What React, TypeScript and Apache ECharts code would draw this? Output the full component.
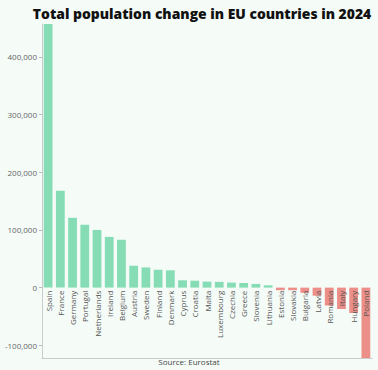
import React, { useEffect, useRef } from "react";
import * as echarts from "echarts";

const countries = [
  "Spain", "France", "Germany", "Portugal", "Netherlands", "Ireland", "Belgium",
  "Austria", "Sweden", "Finland", "Denmark", "Cyprus", "Croatia", "Malta",
  "Luxembourg", "Czechia", "Greece", "Slovenia", "Lithuania", "Estonia",
  "Slovakia", "Bulgaria", "Latvia", "Romania", "Italy", "Hungary", "Poland",
];
const populationChange = [
  457000, 168000, 121000, 109000, 100000, 88000, 83000,
  38000, 35000, 31000, 30000, 12700, 12000, 10400,
  10000, 8700, 8000, 6400, 4000, -4500,
  -4500, -9000, -14000, -31000, -37000, -44000, -122000,
];
const title = "Total population change in EU countries in 2024";
const source = "Source: Eurostat";

const GREEN = "#86ddb5";
const RED = "#ec8f88";
const FONT = "'Open Sans', 'Noto Sans', sans-serif";
const W = 378;
const H = 370;
const GRID_BOTTOM = 12;

export default function App() {
  const ref = useRef<HTMLDivElement>(null);
  useEffect(() => {
    if (!ref.current) return;
    const chart = echarts.init(ref.current, null, { renderer: "svg" });
    chart.setOption({
      animation: false,
      backgroundColor: "#f5fcf8",
      textStyle: { fontFamily: FONT },
      title: [
        {
          text: title,
          left: 197,
          textAlign: "center",
          top: 1,
          textStyle: { fontSize: 13.9, fontWeight: 800, color: "#111", fontFamily: FONT },
        },
        {
          text: source,
          left: "center",
          bottom: 0,
          textStyle: { fontSize: 8, fontWeight: "normal", color: "#444", fontFamily: FONT },
        },
      ],
      grid: {
        left: 42,
        right: 6,
        top: 24,
        bottom: GRID_BOTTOM,
        containLabel: false,
        outerBoundsMode: "none",
      },
      xAxis: [
        {
          type: "category",
          data: countries,
          offset: 0,
          z: 10,
          axisLine: { show: false, onZero: false },
          axisTick: { show: false },
          axisLabel: {
            interval: 0,
            rotate: 90,
            margin: 3,
            fontSize: 8,
            color: "#555",
            fontFamily: FONT,
          },
        },
        {
          type: "category",
          data: countries,
          position: "bottom",
          axisLine: { show: true, onZero: false, lineStyle: { color: "#ccc" } },
          axisTick: { show: false },
          axisLabel: { show: false },
        },
      ],
      yAxis: {
        type: "value",
        min: "dataMin",
        max: "dataMax",
        axisLine: { show: true, onZero: false, lineStyle: { color: "#ccc" } },
        axisTick: { show: true, length: 3, lineStyle: { color: "#bbb" } },
        splitLine: { show: false },
        axisLabel: {
          fontSize: 8,
          color: "#666",
          margin: 5,
          fontFamily: FONT,
          showMinLabel: false,
          showMaxLabel: false,
          formatter: (v: number) => (v % 100000 === 0 ? v.toLocaleString("en-US") : ""),
        },
      },
      series: [
        {
          type: "bar",
          xAxisIndex: 0,
          barWidth: "72%",
          z: 2,
          data: populationChange.map((v) => ({
            value: v,
            itemStyle: { color: v >= 0 ? GREEN : RED },
          })),
        },
      ],
    });
    // move the category labels up to the zero line of the value axis
    const zeroY = chart.convertToPixel({ yAxisIndex: 0 }, 0) as number;
    const bottomY = H - GRID_BOTTOM;
    if (typeof zeroY === "number" && isFinite(zeroY)) {
      chart.setOption({ xAxis: [{ offset: -(bottomY - zeroY) }, {}] });
    }
    return () => chart.dispose();
  }, []);
  return (
    <div
      ref={ref}
      style={{ position: "absolute", left: 0, top: 0, width: W, height: H }}
    />
  );
}
